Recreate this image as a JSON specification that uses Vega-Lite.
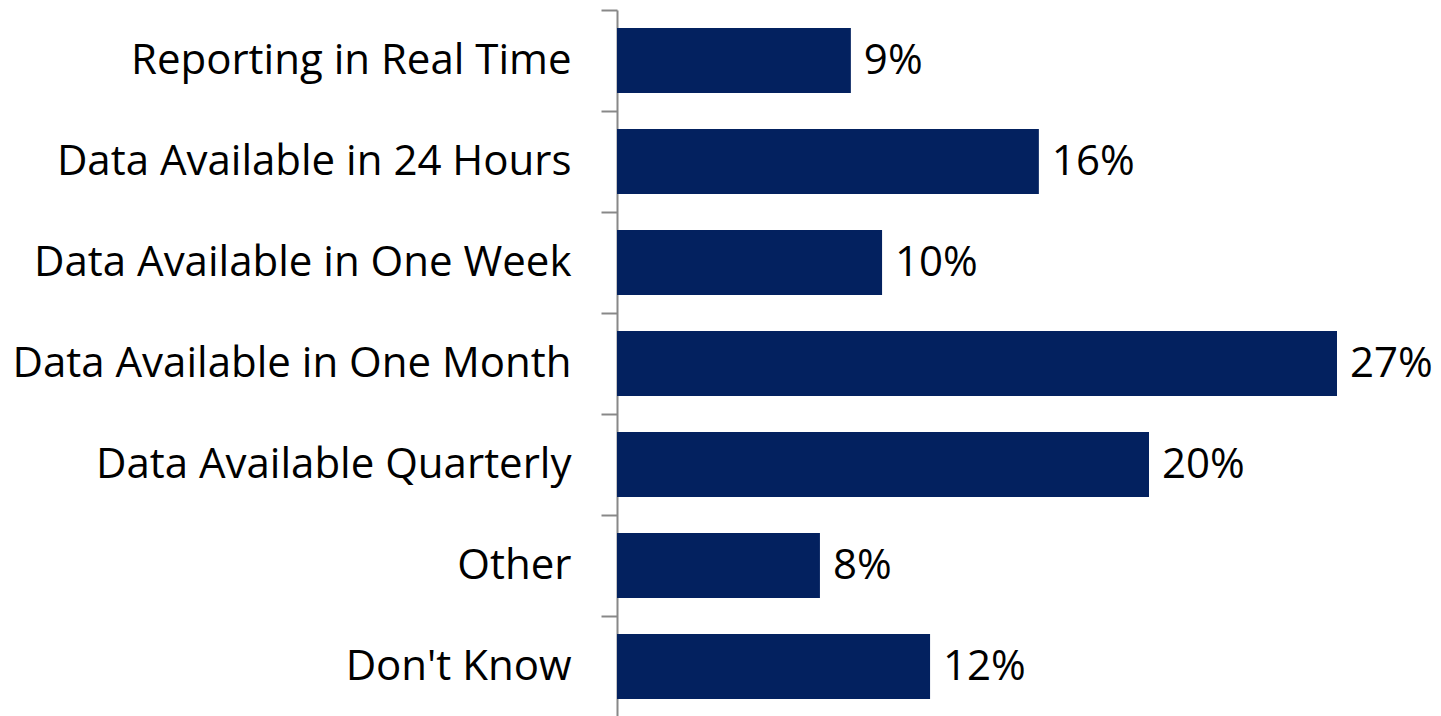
{
  "$schema": "https://vega.github.io/schema/vega-lite/v6.json",
  "width": 824,
  "height": 707,
  "autosize": {"type": "none"},
  "padding": {"left": 617, "top": 10, "right": 0, "bottom": 0},
  "background": "white",
  "config": {"view": {"stroke": null}, "font": "Open Sans"},
  "data": {"values": [
    {"category": "Reporting in Real Time", "value": 8.77, "label": "9%"},
    {"category": "Data Available in 24 Hours", "value": 15.82, "label": "16%"},
    {"category": "Data Available in One Week", "value": 9.94, "label": "10%"},
    {"category": "Data Available in One Month", "value": 27.0, "label": "27%"},
    {"category": "Data Available Quarterly", "value": 19.95, "label": "20%"},
    {"category": "Other", "value": 7.61, "label": "8%"},
    {"category": "Don't Know", "value": 11.74, "label": "12%"}
  ]},
  "encoding": {
    "y": {
      "field": "category", "type": "nominal", "sort": null,
      "scale": {"paddingInner": 0, "paddingOuter": 0},
      "axis": {
        "title": null, "tickBand": "extent", "tickSize": 16, "tickColor": "#888888", "tickWidth": 2,
        "domainColor": "#888888", "domainWidth": 2, "labelFontSize": 42, "labelColor": "#000000",
        "labelPadding": 30, "labelFont": "Open Sans", "labelLimit": 700
      }
    },
    "x": {"field": "value", "type": "quantitative", "scale": {"domain": [0, 30.9], "nice": false}, "axis": null}
  },
  "layer": [
    {"mark": {"type": "bar", "color": "#03215F", "height": {"band": 0.645}}},
    {"mark": {"type": "text", "align": "left", "baseline": "middle", "dx": 13, "fontSize": 42, "color": "#000000", "font": "Open Sans"},
     "encoding": {"text": {"field": "label"}}}
  ]
}
